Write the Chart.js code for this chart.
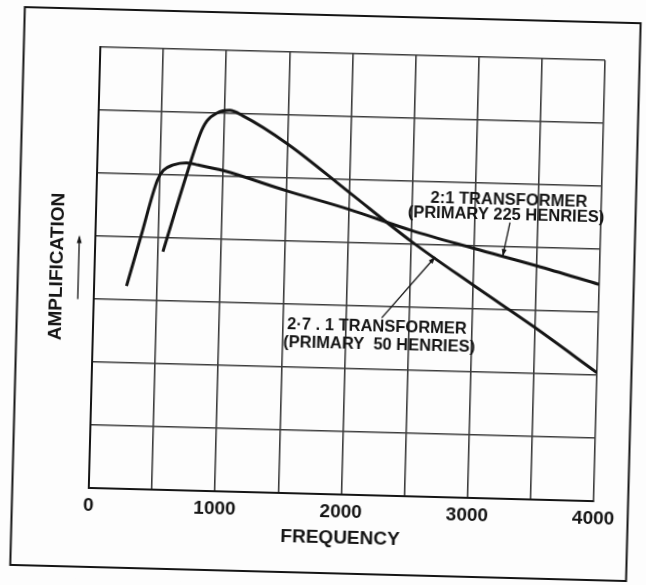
<!DOCTYPE html>
<html>
<head>
<meta charset="utf-8">
<script src="https://cdn.jsdelivr.net/npm/chart.js@4.4.1/dist/chart.umd.min.js"></script>
<style>
  html, body { margin: 0; padding: 0; background: #fdfdfd; overflow: hidden; }
  /* la hoja va un poquito torcida, como pegada a mano */
  #hoja { position: absolute; left: 0; top: 0; width: 646px; height: 585px;
          transform: rotate(1.5deg); transform-origin: 323px 292px; background: #fdfdfd; }
  canvas { display: block; }
</style>
</head>
<body>
<div id="hoja"><canvas id="grafica" width="646" height="585"></canvas></div>
<script>
// Curva del transformador 2:1 (primario de 225 henrios)
const frec225 = [257, 359, 479, 525, 602, 705, 800, 1000, 1500, 2000, 2500, 3000, 3500, 4000];
const amp225  = [3.22, 4.0, 4.91, 5.07, 5.16, 5.2, 5.17, 5.09, 4.80, 4.53, 4.22, 3.96, 3.71, 3.44];

// Curva del transformador 2.7:1 (primario de 50 henrios)
const frec50 = [538, 708, 808, 859, 936, 1038, 1141, 1500, 2000, 2500, 3000, 3500, 4000];
const amp50  = [3.78, 5.0, 5.66, 5.87, 6.0, 6.05, 5.97, 5.545, 4.80, 4.05, 3.38, 2.73, 2.04];

// Solo estas frecuencias llevan número; las de 500 en 500 son rejilla
const ticksFrec = [0, 1000, 2000, 3000, 4000];

// Rótulos de las curvas y sus flechitas (en unidades de los ejes)
const rotulos = [
  { texto: '2:1 TRANSFORMER',       x: 3267, y: 4.735 },
  { texto: '(PRIMARY 225 HENRIES)', x: 3247, y: 4.50 },
  { texto: '2·7 . 1 TRANSFORMER',   x: 2249, y: 2.68 },
  { texto: '(PRIMARY  50 HENRIES)', x: 2269, y: 2.395 }
];
const flechas = [
  { desde: [3280, 4.386], hasta: [3230, 3.85] },
  { desde: [2284, 2.82],  hasta: [2695, 3.81] }
];

const tinta = '#151515';
const rejilla = '#3c3c3c';
const fuente = '"Liberation Sans", Arial, sans-serif';

function puntas(ctx, x0, y0, x1, y1, largo, ancho) {
  const ang = Math.atan2(y1 - y0, x1 - x0);
  ctx.beginPath();
  ctx.moveTo(x1, y1);
  ctx.lineTo(x1 - largo * Math.cos(ang) + ancho * Math.sin(ang), y1 - largo * Math.sin(ang) - ancho * Math.cos(ang));
  ctx.lineTo(x1 - largo * Math.cos(ang) - ancho * Math.sin(ang), y1 - largo * Math.sin(ang) + ancho * Math.cos(ang));
  ctx.closePath();
  ctx.fill();
}

// Marco, rótulos, flechas de los rótulos y flecha del eje vertical
const extras = {
  id: 'extras',
  afterDraw(chart) {
    const { ctx, chartArea: area, scales: { x, y } } = chart;
    ctx.save();
    ctx.strokeStyle = tinta;
    ctx.fillStyle = tinta;

    // marco exterior de la figura
    ctx.lineWidth = 2;
    ctx.strokeRect(17.5, 15, 616, 558);

    // textos de las curvas
    ctx.font = 'bold 16.5px ' + fuente;
    ctx.textAlign = 'center';
    ctx.textBaseline = 'middle';
    rotulos.forEach(r => ctx.fillText(r.texto, x.getPixelForValue(r.x), y.getPixelForValue(r.y)));

    // líneas guía con su puntica
    ctx.lineWidth = 1.3;
    flechas.forEach(f => {
      const x0 = x.getPixelForValue(f.desde[0]), y0 = y.getPixelForValue(f.desde[1]);
      const x1 = x.getPixelForValue(f.hasta[0]), y1 = y.getPixelForValue(f.hasta[1]);
      ctx.beginPath();
      ctx.moveTo(x0, y0);
      ctx.lineTo(x1, y1);
      ctx.stroke();
      puntas(ctx, x0, y0, x1, y1, 7, 2.5);
    });

    // flecha hacia arriba junto a AMPLIFICATION
    const fx = area.left - 16;
    const fy = (area.top + area.bottom) / 2;
    ctx.lineWidth = 1.3;
    ctx.beginPath();
    ctx.moveTo(fx, fy + 32);
    ctx.lineTo(fx, fy - 30);
    ctx.stroke();
    puntas(ctx, fx, fy + 32, fx, fy - 32, 8, 2.5);
    ctx.restore();
  }
};

new Chart(document.getElementById('grafica'), {
  type: 'line',
  data: {
    datasets: [
      {
        label: '2:1 TRANSFORMER (PRIMARY 225 HENRIES)',
        data: frec225.map((f, i) => ({ x: f, y: amp225[i] })),
        borderColor: tinta,
        borderWidth: 3,
        pointRadius: 0,
        cubicInterpolationMode: 'monotone',
        fill: false
      },
      {
        label: '2·7 . 1 TRANSFORMER (PRIMARY 50 HENRIES)',
        data: frec50.map((f, i) => ({ x: f, y: amp50[i] })),
        borderColor: tinta,
        borderWidth: 3,
        pointRadius: 0,
        cubicInterpolationMode: 'monotone',
        fill: false
      }
    ]
  },
  options: {
    responsive: false,
    devicePixelRatio: 1,
    animation: false,
    layout: { padding: { left: 44, top: 53, right: 47, bottom: 36 } },
    plugins: { legend: { display: false }, tooltip: { enabled: false } },
    scales: {
      x: {
        type: 'linear',
        min: 0,
        max: 4000,
        afterFit: s => { s.height = 55; },
        ticks: {
          stepSize: 500,
          autoSkip: false,
          maxRotation: 0,
          padding: 6,
          color: tinta,
          font: { family: fuente, size: 19, weight: 'bold' },
          callback: v => ticksFrec.includes(v) ? String(v) : ''
        },
        grid: { color: rejilla, lineWidth: 1.6, drawTicks: false },
        border: { display: true, color: tinta, width: 2 },
        title: {
          display: true,
          text: 'FREQUENCY',
          color: tinta,
          font: { family: fuente, size: 19, weight: 'bold' },
          padding: { top: 0, bottom: 0 }
        }
      },
      y: {
        min: 0,
        max: 7,
        afterFit: s => { s.width = 50; },
        ticks: { stepSize: 1, display: false },
        grid: { color: rejilla, lineWidth: 1.6, drawTicks: false },
        border: { display: true, color: tinta, width: 2 },
        title: {
          display: true,
          text: 'AMPLIFICATION',
          color: tinta,
          font: { family: fuente, size: 19, weight: 'bold' },
          padding: { top: 1, bottom: 0 }
        }
      }
    }
  },
  plugins: [extras]
});
</script>
</body>
</html>
